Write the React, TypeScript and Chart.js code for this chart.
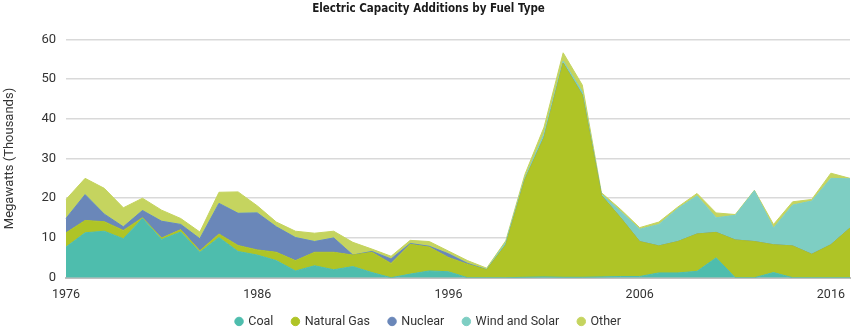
import React, { useEffect, useRef } from "react";
import { Chart, registerables } from "chart.js";

Chart.register(...registerables);

const years: string[] = [];
for (let y = 1976; y <= 2017; y++) years.push(String(y));

const coal = [7.7, 11.3, 11.7, 9.8, 14.9, 9.6, 11.5, 6.4, 10.1, 6.6, 5.7, 4.3, 1.7, 3.0, 2.0, 2.8, 1.3, 0, 0.9, 1.7, 1.5, 0, 0, 0, 0.1, 0.2, 0.1, 0.1, 0.2, 0.3, 0.3, 1.2, 1.2, 1.6, 5.0, 0, 0, 1.3, 0, 0, 0, 0];
const naturalGas = [3.6, 3.1, 2.4, 2.1, 0.2, 0.4, 0.6, 0.4, 0.9, 1.5, 1.3, 2.1, 2.6, 3.4, 4.4, 2.9, 5.1, 3.6, 7.5, 6.0, 3.6, 3.4, 2.0, 8.3, 24.6, 35.1, 53.9, 45.9, 20.5, 14.8, 8.8, 6.8, 7.9, 9.4, 6.4, 9.5, 9.1, 7.0, 8.0, 5.9, 8.3, 12.5];
const nuclear = [3.6, 6.5, 1.9, 0.9, 1.8, 4.2, 1.3, 3.0, 7.7, 8.1, 9.3, 6.4, 5.8, 2.7, 3.6, 0, 0.2, 1.1, 0.2, 0.2, 0.9, 0.2, 0, 0, 0, 0, 0, 0, 0, 0, 0, 0, 0, 0, 0, 0, 0, 0, 0, 0, 0, 0];
const windSolar = [0, 0, 0, 0, 0, 0, 0, 0, 0, 0, 0, 0, 0, 0, 0, 0, 0, 0, 0, 0, 0, 0, 0.1, 0.6, 0.4, 0.9, 0.5, 0.8, 0.3, 1.6, 3.1, 5.4, 8.3, 9.6, 3.7, 6.2, 12.8, 4.2, 10.3, 13.4, 16.7, 12.4];
const other = [4.8, 4.1, 6.5, 4.8, 3.1, 2.8, 1.5, 1.7, 2.8, 5.4, 1.8, 1.2, 1.6, 2.1, 1.7, 3.2, 0.6, 0.7, 0.8, 1.2, 0.7, 0.7, 0.3, 0.4, 0.9, 1.7, 2.1, 1.7, 0.4, 0.5, 0.4, 0.6, 0.4, 0.6, 1.2, 0.2, 0.1, 0.9, 0.8, 0.4, 1.3, 0.1];

const seriesNames = ["Coal", "Natural Gas", "Nuclear", "Wind and Solar", "Other"];
const colors = ["#4ebdad", "#afc426", "#6a87b9", "#7ecec3", "#c5d45f"];

const FONT = "Roboto, 'Noto Sans', sans-serif";

const legendShift = {
  id: "legendShift",
  afterLayout(chart: any) {
    const lg = chart.legend;
    if (lg) {
      lg.top -= 16.5;
      lg.bottom -= 16.5;
    }
  },
};

export default function App() {
  const ref = useRef<HTMLCanvasElement | null>(null);
  useEffect(() => {
    if (!ref.current) return;
    const data = [coal, naturalGas, nuclear, windSolar, other];
    const chart = new Chart(ref.current, {
      type: "line",
      data: {
        labels: years,
        datasets: data.map((d, i) => ({
          label: seriesNames[i],
          data: d,
          backgroundColor: colors[i],
          borderColor: colors[i],
          borderWidth: 1,
          pointRadius: 0,
          fill: i === 0 ? "origin" : "-1",
          tension: 0,
        })),
      },
      plugins: [legendShift],
      options: {
        animation: false,
        responsive: true,
        maintainAspectRatio: false,
        layout: { padding: { left: 0, right: 3, top: 0, bottom: -26.2 } },
        plugins: {
          title: {
            display: true,
            text: "Electric Capacity Additions by Fuel Type",
            color: "#1a1a1a",
            font: { family: "'Liberation Sans Narrow', 'DejaVu Sans Condensed', Roboto, sans-serif", size: 11.5, weight: "bold" },
            padding: { top: 2, bottom: 23.5 },
          },
          legend: {
            position: "bottom",
            labels: {
              usePointStyle: true,
              pointStyle: "circle",
              boxWidth: 6,
              boxHeight: 6,
              color: "#333",
              font: { family: FONT, size: 12.5 },
              padding: 19,
            },
          },
          tooltip: { enabled: false },
        },
        scales: {
          x: {
            stacked: true,
            offset: false,
            grid: { display: false, drawTicks: false },
            border: { display: true, color: "#bfbfbf", width: 2 },
            ticks: {
              autoSkip: false,
              maxRotation: 0,
              color: "#333",
              font: { family: FONT, size: 12.5 },
              padding: 10,
              callback: (_v: any, idx: number) => ((idx % 10) === 0 ? years[idx] : ""),
            },
          },
          y: {
            stacked: true,
            min: 0,
            max: 60,
            grid: { color: "#d9d9d9", drawTicks: false, lineWidth: 1.5 },
            border: { display: false },
            ticks: {
              stepSize: 10,
              color: "#333",
              font: { family: FONT, size: 13 },
              padding: 10,
            },
            title: {
              display: true,
              text: "Megawatts (Thousands)",
              color: "#333",
              font: { family: FONT, size: 13 },
              padding: { top: 2, bottom: 0 },
            },
            afterFit: (scale: any) => {
              scale.width = 66;
            },
          },
        },
      },
    });
    return () => chart.destroy();
  }, []);
  return (
    <div style={{ position: "fixed", left: 0, top: 0, width: 860, height: 328 }}>
      <canvas ref={ref} />
    </div>
  );
}
